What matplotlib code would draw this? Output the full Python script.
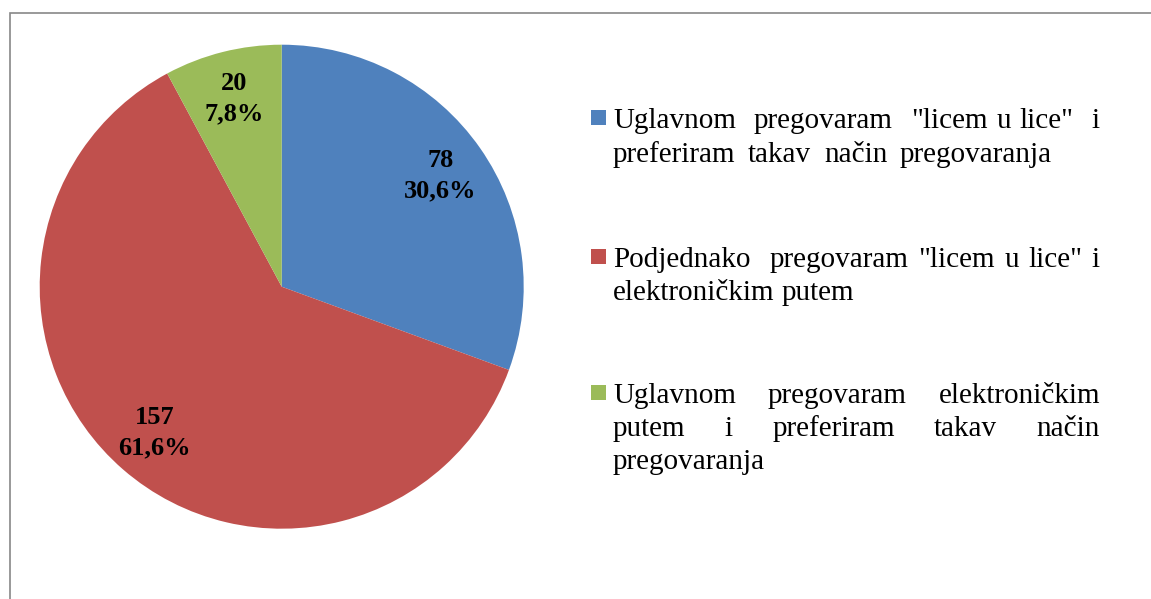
import re
import matplotlib
matplotlib.use("Agg")
import matplotlib.pyplot as plt
from matplotlib.patches import Rectangle

# ---- data ----
categories = [
    'Uglavnom pregovaram "licem u lice" i preferiram takav način pregovaranja',
    'Podjednako pregovaram "licem u lice" i elektroničkim putem',
    'Uglavnom pregovaram elektroničkim putem i preferiram takav način pregovaranja',
]
values = [78, 157, 20]
colors = ["#4F81BD", "#C0504D", "#9BBB59"]

# legend lines as laid out in the reference (justified paragraphs)
legend_lines = [
    ['Uglavnom  pregovaram  "licem u lice"  i', 'preferiram  takav  način  pregovaranja'],
    ['Podjednako  pregovaram "licem u lice" i', 'elektroničkim putem'],
    ['Uglavnom pregovaram elektroničkim', 'putem i preferiram takav način', 'pregovaranja'],
]

W, H = 1151, 599
fig = plt.figure(figsize=(W / 100, H / 100), dpi=100)
fig.patch.set_facecolor("white")

SERIF = ["Liberation Serif", "DejaVu Serif"]

# ---- outer frame ----
fig.add_artist(Rectangle((10 / W, -0.05), 1.1, 1 - 13 / H + 0.05,
                         transform=fig.transFigure, fill=False,
                         edgecolor="#888888", linewidth=1.2, clip_on=False))

# ---- pie ----
cx, cy, r = 281.7, 286.7, 242
ax = fig.add_axes([(cx - r) / W, (H - cy - r) / H, 2 * r / W, 2 * r / H])
total = sum(values)


def fmt(pct):
    v = int(round(pct * total / 100.0))
    return f"{v}\n{pct:.1f}%".replace(".", ",")


wedges, _, autotexts = ax.pie(values, colors=colors, startangle=90, counterclock=False,
                              radius=1, autopct=fmt, pctdistance=0.8,
                              wedgeprops=dict(linewidth=0, edgecolor="none"),
                              textprops=dict(family=SERIF, fontsize=19, fontweight="bold",
                                             color="black", linespacing=1.4))
ax.set_xlim(-1, 1)
ax.set_ylim(-1, 1)
ax.set_aspect("equal")
ax.axis("off")

# ---- legend (justified text) ----
renderer = fig.canvas.get_renderer()
x_left, x_right = 613, 1100
baselines = [[128, 162], [267, 300], [403, 436, 469]]
# right edge for lines that are stretched to a width other than x_right
line_end = {(0, 1): 1052}
fs = 21


def px2fig(x, y):
    return x / W, 1 - y / H


def measure(s):
    t = fig.text(0, 0, s, family=SERIF, fontsize=fs)
    w = t.get_window_extent(renderer).width
    t.remove()
    return w


space_w = measure("a a") - measure("aa")

for i, lines in enumerate(legend_lines):
    bl0 = baselines[i][0]
    fig.add_artist(Rectangle(px2fig(591, bl0 - 3), 15 / W, 15 / H,
                             transform=fig.transFigure, facecolor=colors[i],
                             edgecolor="none"))
    for j, line in enumerate(lines):
        by = baselines[i][j]
        last = (j == len(lines) - 1)
        tokens = re.split(r"( +)", line)
        words = tokens[0::2]
        gaps = [len(g) for g in tokens[1::2]]
        widths = [measure(wd) for wd in words]
        nsp = sum(gaps)
        right = line_end.get((i, j), x_right)
        if nsp == 0 or (last and (i, j) not in line_end):
            extra = 0.0
        else:
            extra = (right - x_left - sum(widths) - nsp * space_w) / nsp
        x = x_left
        for k, wd in enumerate(words):
            fig.text(*px2fig(x, by), wd, family=SERIF, fontsize=fs,
                     ha="left", va="baseline", color="black")
            x += widths[k]
            if k < len(gaps):
                x += gaps[k] * (space_w + extra)

fig.savefig("out.png", dpi=100, facecolor="white")
